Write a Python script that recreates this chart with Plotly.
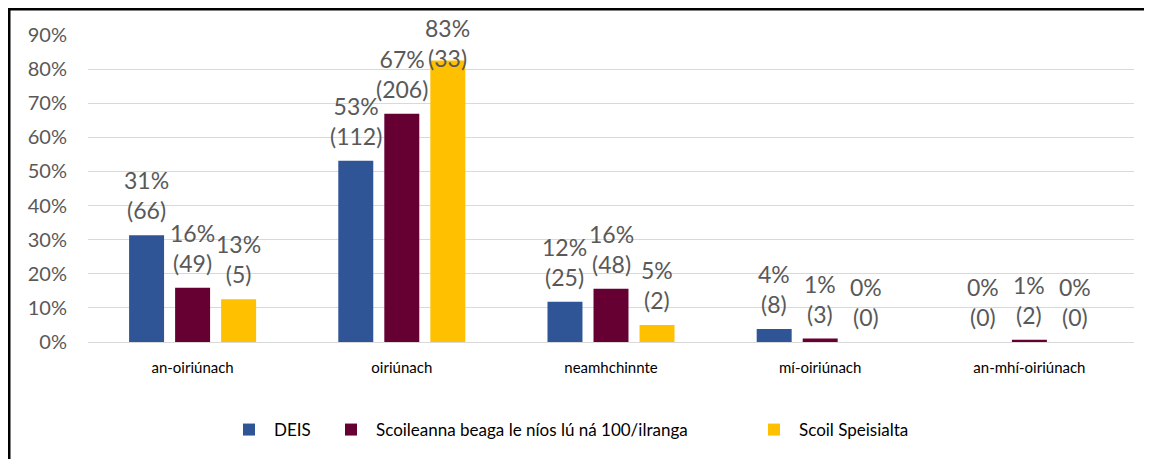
import plotly.graph_objects as go

categories = ["an-oiriúnach", "oiriúnach", "neamhchinnte", "mí-oiriúnach", "an-mhí-oiriúnach"]

series_names = ["DEIS", "Scoileanna beaga le níos lú ná 100/ilranga", "Scoil Speisialta"]

deis_pct = [31.3, 53.1, 11.8, 3.8, 0.0]
deis_count = [66, 112, 25, 8, 0]
deis_label = ["31%", "53%", "12%", "4%", "0%"]

small_pct = [15.9, 66.9, 15.6, 1.0, 0.65]
small_count = [49, 206, 48, 3, 2]
small_label = ["16%", "67%", "16%", "1%", "1%"]

special_pct = [12.5, 82.5, 5.0, 0.0, 0.0]
special_count = [5, 33, 2, 0, 0]
special_label = ["13%", "83%", "5%", "0%", "0%"]

colors = ["#2F5597", "#660033", "#FFC000"]

# page body has an 8px margin; work in window pixels and convert
OFF = 8
W, H = 1152 - OFF, 459 - OFF
PLOT_L, PLOT_R, PLOT_T, PLOT_B = 88, 1134, 35, 342  # window pixels
L = PLOT_L - OFF
R = W - (PLOT_R - OFF)
T = PLOT_T - OFF
B = H - (PLOT_B - OFF)
pw, ph = W - L - R, H - T - B
Y_MAX = 90
BARGAP = 0.34
LABEL_SIZE = 23


def px_x(x):
    return (x - OFF - L) / pw


def px_y(y):
    return (H - B - (y - OFF)) / ph


fig = go.Figure()
data = [
    (deis_pct, deis_count, deis_label),
    (small_pct, small_count, small_label),
    (special_pct, special_count, special_label),
]
legend_ids = ["legend", "legend2", "legend3"]
annotations = []
slot = pw / len(categories) * (1 - BARGAP) / len(data)
label_h = 2 * 1.3 * LABEL_SIZE + 2
for i, (vals, counts, labels) in enumerate(data):
    fig.add_trace(go.Bar(
        x=categories,
        y=vals,
        name=series_names[i],
        marker=dict(color=colors[i], line=dict(width=0)),
        legend=legend_ids[i],
        hoverinfo="skip",
    ))
    for cat, v, c, l in zip(categories, vals, counts, labels):
        top_px = T + ph * (1 - v / Y_MAX)  # figure pixel of bar top
        shift = 9
        # keep label inside the chart area (as the original does)
        min_top = 4
        if top_px - shift - label_h < min_top:
            shift = top_px - label_h - min_top
        annotations.append(dict(
            x=cat, y=v, xref="x", yref="y",
            text=f"{l}<br>({c})",
            showarrow=False,
            xanchor="center", yanchor="bottom",
            xshift=(i - (len(data) - 1) / 2) * slot,
            yshift=shift,
            font=dict(family="Lato", size=LABEL_SIZE, color="#595959"),
            align="center",
        ))

leg_common = dict(
    orientation="h",
    xanchor="left",
    yanchor="middle",
    font=dict(family="Lato", size=17, color="#000000"),
    bgcolor="rgba(0,0,0,0)",
    itemwidth=40,
)
legend_x = [224, 326, 749]
fig.update_layout(
    width=W,
    height=H,
    margin=dict(l=L, r=R, t=T, b=B, pad=0, autoexpand=False),
    paper_bgcolor="white",
    plot_bgcolor="white",
    barmode="group",
    bargap=BARGAP,
    bargroupgap=0.24,
    showlegend=True,
    legend=dict(x=px_x(legend_x[0]), y=px_y(430), **leg_common),
    legend2=dict(x=px_x(legend_x[1]), y=px_y(430), **leg_common),
    legend3=dict(x=px_x(legend_x[2]), y=px_y(430), **leg_common),
    xaxis=dict(
        showgrid=False,
        showline=True,
        linecolor="#D9D9D9",
        linewidth=1,
        tickfont=dict(family="Lato", size=15, color="#000000"),
        ticks="",
        ticklabelstandoff=12,
    ),
    yaxis=dict(
        range=[0, Y_MAX],
        dtick=10,
        ticksuffix="%",
        showgrid=True,
        gridcolor="#D9D9D9",
        gridwidth=1,
        zeroline=False,
        showline=False,
        tickfont=dict(family="Lato", size=20, color="#595959"),
        ticklabelstandoff=20,
    ),
    annotations=annotations,
    shapes=[
        dict(type="line", xref="paper", yref="paper",
             x0=px_x(9), x1=px_x(1160), y0=px_y(9), y1=px_y(9),
             line=dict(color="#000000", width=3)),
        dict(type="line", xref="paper", yref="paper",
             x0=px_x(9), x1=px_x(9), y0=px_y(8), y1=px_y(470),
             line=dict(color="#000000", width=3)),
    ],
)

fig.write_html("out.html")
